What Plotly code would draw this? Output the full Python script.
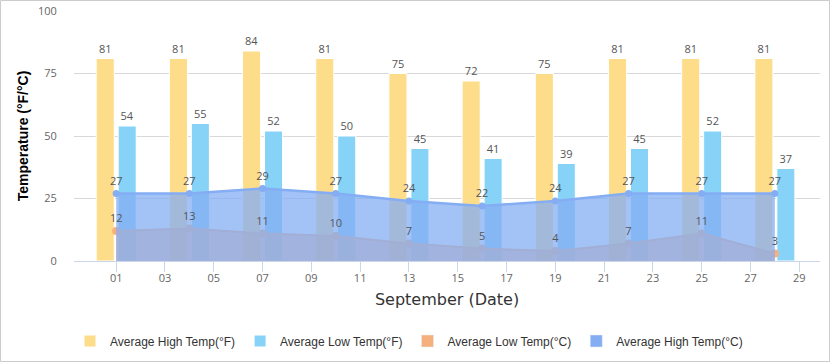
import plotly.graph_objects as go

days = [1, 4, 7, 10, 13, 16, 19, 22, 25, 28]
high_f = [81, 81, 84, 81, 75, 72, 75, 81, 81, 81]
low_f = [54, 55, 52, 50, 45, 41, 39, 45, 52, 37]
low_c = [12, 13, 11, 10, 7, 5, 4, 7, 11, 3]
high_c = [27, 27, 29, 27, 24, 22, 24, 27, 27, 27]
tick_days = list(range(1, 30, 2))
tick_labels = [f"{d:02d}" for d in tick_days]
y_ticks = [0, 25, 50, 75, 100]

C_HIGH_F = "#fddc8a"
C_LOW_F = "#87d3f8"
C_LOW_C = "#f5b07e"
C_HIGH_C = "#84adf3"

W, H = 830, 362
L, R, T, B = 74, 10, 11, 101
PW, PH = W - L - R, H - T - B

label_font = dict(family="Open Sans", size=11, color="#555555")
BAR_W = 0.74

fig = go.Figure()
fig.add_trace(go.Bar(
    x=days, y=high_f, name="Average High Temp(°F)", legendrank=1,
    width=BAR_W, offset=-0.45 - BAR_W / 2,
    marker=dict(color=C_HIGH_F, line=dict(color="white", width=1)),
    text=high_f, textposition="outside", textfont=label_font,
    constraintext="none", cliponaxis=False,
))
fig.add_trace(go.Bar(
    x=days, y=low_f, name="Average Low Temp(°F)", legendrank=2,
    width=BAR_W, offset=0.45 - BAR_W / 2,
    marker=dict(color=C_LOW_F, line=dict(color="white", width=1)),
    text=low_f, textposition="outside", textfont=label_font,
    constraintext="none", cliponaxis=False,
))
fig.add_trace(go.Scatter(
    x=days, y=low_c, name="Average Low Temp(°C)", mode="lines+markers",
    line=dict(color=C_LOW_C, width=2), marker=dict(color=C_LOW_C, size=8),
    fill="tozeroy", fillcolor="rgba(245,176,126,0.75)", showlegend=False,
))
fig.add_trace(go.Scatter(
    x=days, y=high_c, name="Average High Temp(°C)", mode="lines+markers",
    line=dict(color=C_HIGH_C, width=2.5), marker=dict(color=C_HIGH_C, size=7),
    fill="tozeroy", fillcolor="rgba(132,173,243,0.75)", showlegend=False,
))
# data labels drawn on top of both areas
for vals in (low_c, high_c):
    fig.add_trace(go.Scatter(
        x=days, y=vals, mode="markers+text", text=vals, textposition="top center",
        marker=dict(size=8, opacity=0), textfont=label_font,
        cliponaxis=False, showlegend=False,
    ))
# legend entries (square symbols) for the two area series
fig.add_trace(go.Bar(x=[None], y=[None], name="Average Low Temp(°C)",
                     marker=dict(color=C_LOW_C), legendrank=3))
fig.add_trace(go.Bar(x=[None], y=[None], name="Average High Temp(°C)",
                     marker=dict(color=C_HIGH_C), legendrank=4))

fig.update_layout(
    width=W, height=H,
    margin=dict(l=L, r=R, t=T, b=B, autoexpand=False),
    paper_bgcolor="white", plot_bgcolor="white",
    barmode="overlay",
    hovermode=False,
    font=dict(family="DejaVu Sans", color="#666666"),
    legend=dict(
        orientation="h", x=(70 - L) / PW, xanchor="left",
        y=-(341 - (T + PH)) / PH, yanchor="middle",
        font=dict(family="Liberation Sans", size=12, color="#333333"),
    ),
    xaxis=dict(
        range=[-0.73, 29.85], tickvals=tick_days, ticktext=tick_labels,
        showgrid=False, zeroline=False,
        showline=True, linecolor="#ccd6eb", linewidth=1,
        ticks="outside", ticklen=10, tickcolor="#ccd6eb",
        ticklabelstandoff=-3,
        tickfont=dict(family="Open Sans", size=11, color="#666666"),
        title=dict(text="September (Date)", standoff=9,
                   font=dict(family="DejaVu Sans", size=16, color="#333333")),
    ),
    yaxis=dict(
        range=[0, 100], tickvals=y_ticks, showgrid=True, gridcolor="#d8d8d8",
        zeroline=False, showline=False,
        ticks="outside", ticklen=14, tickcolor="rgba(0,0,0,0)",
        tickfont=dict(family="Open Sans", size=11, color="#666666"),
        title=dict(text="<b>Temperature (°F/°C)</b>", standoff=6,
                   font=dict(family="Liberation Sans", size=14, color="#000000")),
    ),
    shapes=[dict(
        type="rect", xref="paper", yref="paper", layer="above",
        x0=(0.5 - L) / PW, x1=(W - 0.5 - L) / PW,
        y0=-(B - 0.5) / PH, y1=1 + (T - 0.5) / PH,
        line=dict(color="#cccccc", width=1),
    )],
)

fig.write_html("out.html", config={"displayModeBar": False},
               post_script="document.body.style.margin='0';document.body.style.overflow='hidden';")
